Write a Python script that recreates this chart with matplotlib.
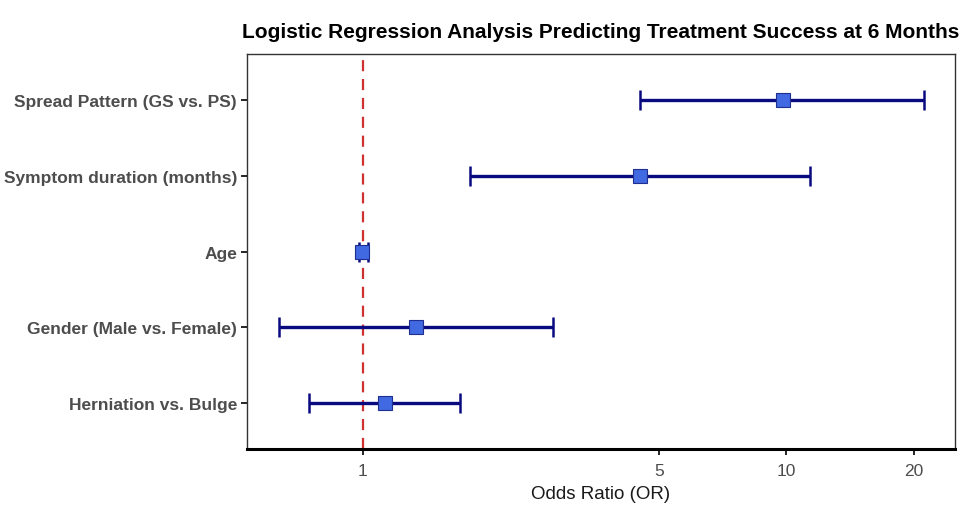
import numpy as np
import matplotlib.pyplot as plt

# Data (odds ratios with 95% CI), top to bottom
labels = ["Spread Pattern (GS vs. PS)", "Symptom duration (months)", "Age",
          "Gender (Male vs. Female)", "Herniation vs. Bulge"]
odds_ratio = [9.84, 4.52, 0.995, 1.335, 1.127]
ci_low = [4.52, 1.79, 0.98, 0.633, 0.745]
ci_high = [21.2, 11.4, 1.03, 2.81, 1.70]
x_ticks = [1, 5, 10, 20]

plt.rcParams['font.family'] = ['Liberation Sans', 'DejaVu Sans']

fig = plt.figure(figsize=(9.64, 5.1), dpi=100)
ax = fig.add_axes([0.256, 0.1176, 0.735, 0.7745])

n = len(labels)
ypos = np.arange(n, 0, -1)
or_arr = np.array(odds_ratio)
err = [or_arr - np.array(ci_low), np.array(ci_high) - or_arr]

ax.axvline(1, color='#D03030', linestyle=(0, (5, 3.5)), linewidth=1.6, zorder=1)
ax.errorbar(or_arr, ypos, xerr=err, fmt='none', ecolor='#0A0A80',
            elinewidth=2.4, capsize=7, capthick=1.8, zorder=2)
ax.plot(or_arr, ypos, 's', markersize=9.5, markerfacecolor='#4169E1',
        markeredgecolor='#1F2F8F', markeredgewidth=0.8, zorder=3)

ax.set_xscale('log')
ax.set_xlim(0.532, 25.1)
ax.set_ylim(0.4, n + 0.6)
ax.set_xticks(x_ticks)
ax.set_xticklabels([str(t) for t in x_ticks])
ax.minorticks_off()
ax.set_yticks(ypos)
ax.set_yticklabels(labels)

ax.tick_params(axis='y', labelsize=12.5, labelcolor='#4D4D4D', length=4, width=1.2, pad=3)
ax.tick_params(axis='x', labelsize=12.5, labelcolor='#4D4D4D', length=4, width=1.2, pad=6)
for lab in ax.get_yticklabels():
    lab.set_fontweight('bold')

for s in ['top', 'right', 'left']:
    ax.spines[s].set_linewidth(1.0)
    ax.spines[s].set_color('#333333')
ax.spines['bottom'].set_linewidth(2.2)
ax.spines['bottom'].set_color('black')

ax.set_xlabel("Odds Ratio (OR)", fontsize=13.5, color='#1A1A1A', labelpad=5)
ax.set_title("Logistic Regression Analysis Predicting Treatment Success at 6 Months",
             fontsize=15, fontweight='bold', pad=12)

fig.savefig("out.png", dpi=100)
